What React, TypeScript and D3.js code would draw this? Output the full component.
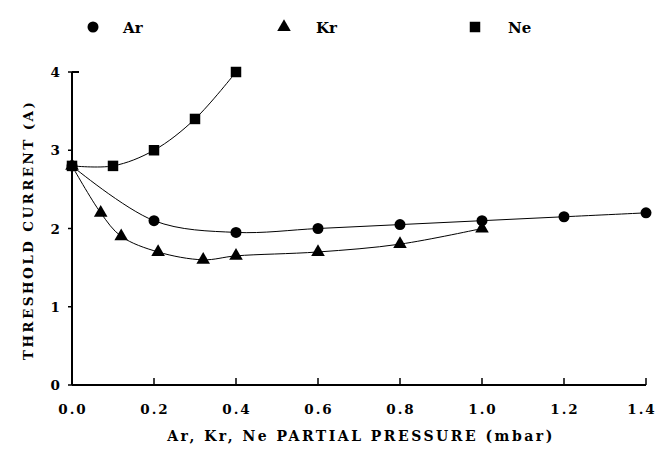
import React from "react";
import * as d3 from "d3";

const xTicks = [0, 0.2, 0.4, 0.6, 0.8, 1.0, 1.2, 1.4];
const yTicks = [0, 1, 2, 3, 4];

const arX = [0, 0.2, 0.4, 0.6, 0.8, 1.0, 1.2, 1.4];
const arY = [2.8, 2.1, 1.95, 2.0, 2.05, 2.1, 2.15, 2.2];
const krX = [0, 0.07, 0.12, 0.21, 0.32, 0.4, 0.6, 0.8, 1.0];
const krY = [2.8, 2.2, 1.9, 1.7, 1.6, 1.65, 1.7, 1.8, 2.0];
const neX = [0, 0.1, 0.2, 0.3, 0.4];
const neY = [2.8, 2.8, 3.0, 3.4, 4.0];

const W = 660, H = 457;
const x = d3.scaleLinear().domain([0, 1.4]).range([72, 646]);
const y = d3.scaleLinear().domain([0, 4]).range([385, 72]);

const fs = { fontFamily: "DejaVu Serif", fontWeight: 700 } as React.CSSProperties;

type P = [number, number];
const zip = (a: number[], b: number[]): P[] => a.map((v, i) => [v, b[i]]);

const line = d3.line<P>().x(d => x(d[0])).y(d => y(d[1])).curve(d3.curveCatmullRom.alpha(0.5));

const circle = d3.symbol().type(d3.symbolCircle).size(95);
const tri = d3.symbol().type(d3.symbolTriangle).size(80);
const sq = d3.symbol().type(d3.symbolSquare).size(110);

export default function App() {
  const series = [
    { pts: zip(arX, arY), sym: circle() as string },
    { pts: zip(krX, krY), sym: tri() as string },
    { pts: zip(neX, neY), sym: sq() as string },
  ];
  const legend = [
    { sym: circle() as string, label: "Ar", sx: 93, tx: 123 },
    { sym: tri() as string, label: "Kr", sx: 284, tx: 316 },
    { sym: sq() as string, label: "Ne", sx: 475, tx: 508 },
  ];
  return (
    <svg width={W} height={H} style={{ position: "absolute", left: 0, top: 0, background: "#fff" }}>
      <rect width={W} height={H} fill="#fff" />
      {legend.map((l, i) => (
        <g key={i}>
          <path d={l.sym} transform={`translate(${l.sx},${27})`} fill="#000" />
          <text x={l.tx} y={33} style={{ ...fs, fontSize: 15 }}>{l.label}</text>
        </g>
      ))}
      {/* axes */}
      <line x1={x(0)} x2={x(1.4)} y1={y(0)} y2={y(0)} stroke="#000" strokeWidth={2} />
      <line x1={x(0)} x2={x(0)} y1={y(0)} y2={y(4)} stroke="#000" strokeWidth={2} />
      <line x1={x(0)} x2={x(0) + 7} y1={y(4)} y2={y(4)} stroke="#000" strokeWidth={2} />
      {xTicks.map((t, i) => (
        <g key={i}>
          <line x1={x(t)} x2={x(t)} y1={y(0)} y2={y(0) - 7} stroke="#000" strokeWidth={1.5} />
          <text x={Math.min(x(t) + 1, W - 18)} y={414} textAnchor="middle" style={{ ...fs, fontSize: 13.5, letterSpacing: 2 }}>{t.toFixed(1)}</text>
        </g>
      ))}
      {yTicks.map((t, i) => (
        <g key={i}>
          <line x1={x(0) - 4} x2={x(0)} y1={y(t)} y2={y(t)} stroke="#000" strokeWidth={1.5} />
          <text x={x(0) - 12} y={y(t) + 5} textAnchor="end" style={{ ...fs, fontSize: 13.5 }}>{t}</text>
        </g>
      ))}
      <text transform={`translate(33,${230}) rotate(-90)`} textAnchor="middle" style={{ ...fs, fontSize: 13.5, letterSpacing: 2.4 }}>THRESHOLD CURRENT (A)</text>
      <text x={361} y={441} textAnchor="middle" style={{ ...fs, fontSize: 14, letterSpacing: 2.5 }}>Ar, Kr, Ne PARTIAL PRESSURE (mbar)</text>
      {series.map((s, i) => (
        <g key={i}>
          <path d={line(s.pts) || ""} fill="none" stroke="#000" strokeWidth={1} />
          {s.pts.map((p, j) => (
            <path key={j} d={s.sym} transform={`translate(${x(p[0])},${y(p[1])})`} fill="#000" />
          ))}
        </g>
      ))}
    </svg>
  );
}
